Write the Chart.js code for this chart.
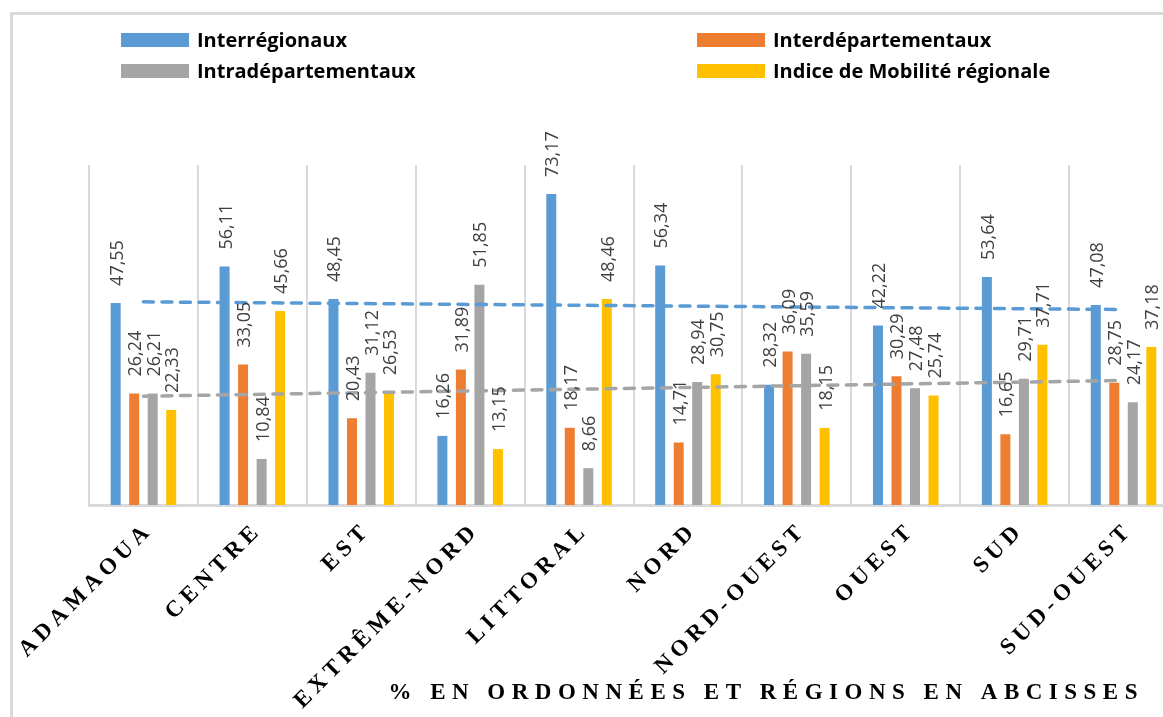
<!DOCTYPE html>
<html>
<head>
<meta charset="utf-8">
<script src="https://cdn.jsdelivr.net/npm/chart.js@4"></script>
<style>
html, body { margin:0; padding:0; overflow:hidden; background:#ffffff; width:1163px; height:717px; }
#frame { position:absolute; left:10px; top:12px; width:1400px; height:900px; border:3px solid #d9d9d9; box-sizing:border-box; }
#c { position:absolute; left:0; top:0; }
</style>
</head>
<body>
<div id="frame"></div>
<canvas id="c" width="1200" height="717"></canvas>
<script>
// ---- Data ----
const categories = ['ADAMAOUA','CENTRE','EST','EXTRÊME-NORD','LITTORAL','NORD','NORD-OUEST','OUEST','SUD','SUD-OUEST'];
const seriesNames = ['Interrégionaux','Interdépartementaux','Intradépartementaux','Indice de Mobilité régionale'];
const interRegionaux      = [47.55, 56.11, 48.45, 16.26, 73.17, 56.34, 28.32, 42.22, 53.64, 47.08];
const interDepartementaux = [26.24, 33.05, 20.43, 31.89, 18.17, 14.71, 36.09, 30.29, 16.65, 28.75];
const intraDepartementaux = [26.21, 10.84, 31.12, 51.85,  8.66, 28.94, 35.59, 27.48, 29.71, 24.17];
const indiceMobilite      = [22.33, 45.66, 26.53, 13.15, 48.46, 30.75, 18.15, 25.74, 37.71, 37.18];
// dashed trend lines (endpoints)
const interRegionauxTrend      = [47.8, null, null, null, null, null, null, null, null, 46.0];
const intraDepartementauxTrend = [25.6, null, null, null, null, null, null, null, null, 29.3];
const yMin = 0, yMax = 80;
const xTitle = '% EN ORDONNÉES ET RÉGIONS EN ABCISSES';

const colors = ['#5B9BD5', '#ED7D31', '#A5A5A5', '#FFC000'];
const seriesValues = [interRegionaux, interDepartementaux, intraDepartementaux, indiceMobilite];

const barDatasets = seriesValues.map((vals, i) => ({
  type: 'bar',
  label: seriesNames[i],
  data: vals,
  backgroundColor: colors[i],
  borderWidth: 0,
  categoryPercentage: 0.68,
  barPercentage: 0.54,
  order: 1
}));

const trendDatasets = [
  { type:'line', label:'trend-' + seriesNames[0], data: interRegionauxTrend, borderColor: colors[0] },
  { type:'line', label:'trend-' + seriesNames[2], data: intraDepartementauxTrend, borderColor: colors[2] }
].map(d => Object.assign(d, {
  spanGaps: true, pointRadius: 0, borderWidth: 3.5, borderDash: [10, 8.5], borderCapStyle: 'round',
  fill: false, order: -1, tension: 0
}));

// ---- Plugins ----
const TICK_SPACING = 5, TITLE_SPACING = 6.5;
const spacingPlugin = {
  id: 'spacing',
  beforeDraw(chart) {
    const s = chart.scales.x;
    if (!s.__patched) {
      const origTitle = s.drawTitle;
      s.drawTitle = function (...a) {
        const c = this.ctx;
        c.save();
        c.letterSpacing = TITLE_SPACING + 'px';
        c.translate(-34, 0);
        origTitle.apply(this, a);
        c.restore();
      };
      const origLabels = s.drawLabels;
      s.drawLabels = function (...a) {
        const c = this.ctx;
        c.save();
        c.letterSpacing = TICK_SPACING + 'px';
        c.translate(6, -2);
        origLabels.apply(this, a);
        c.restore();
      };
      s.__patched = true;
    }
  }
};

const dataLabelPlugin = {
  id: 'dataLabels',
  afterDatasetsDraw(chart) {
    const ctx = chart.ctx;
    ctx.save();
    ctx.font = '18px "Open Sans"';
    ctx.fillStyle = '#404040';
    ctx.textAlign = 'left';
    ctx.textBaseline = 'alphabetic';
    chart.data.datasets.forEach((ds, i) => {
      if (ds.type !== 'bar') return;
      const meta = chart.getDatasetMeta(i);
      meta.data.forEach((bar, j) => {
        const v = ds.data[j];
        ctx.save();
        ctx.translate(bar.x, bar.y - 17);
        ctx.rotate(-Math.PI / 2);
        ctx.fillText(v.toFixed(2).replace('.', ','), 0, 7);
        ctx.restore();
      });
    });
    ctx.restore();
  }
};

const legendPlugin = {
  id: 'customLegend',
  afterDraw(chart) {
    const ctx = chart.ctx;
    ctx.save();
    ctx.font = 'bold 20px "Open Sans"';
    ctx.textBaseline = 'middle';
    ctx.textAlign = 'left';
    const cols = [121, 697], rows = [40, 71];
    chart.data.datasets.filter(d => d.type === 'bar').forEach((ds, k) => {
      const x = cols[k % 2], y = rows[Math.floor(k / 2)];
      ctx.fillStyle = ds.backgroundColor;
      ctx.fillRect(x, y - 7, 68, 14);
      ctx.fillStyle = '#000000';
      ctx.fillText(ds.label, x + 76, y + 1);
    });
    ctx.restore();
  }
};

new Chart(document.getElementById('c'), {
  data: { labels: categories, datasets: [...barDatasets, ...trendDatasets] },
  options: {
    responsive: false,
    devicePixelRatio: 1,
    animation: false,
    events: [],
    layout: { padding: { left: 89, right: 22, top: 165, bottom: 0 } },
    plugins: { legend: { display: false }, tooltip: { enabled: false }, title: { display: false } },
    scales: {
      x: {
        offset: true,
        grid: { display: true, offset: true, color: '#d9d9d9', lineWidth: 2, drawTicks: false },
        border: { display: true, color: '#d9d9d9', width: 3 },
        ticks: {
          autoSkip: false, minRotation: 45, maxRotation: 45, padding: 14, color: '#000000',
          font: { family: "'Liberation Serif', serif", size: 23, weight: 'bold' }
        },
        title: {
          display: true, text: xTitle, align: 'end', color: '#000000',
          font: { family: "'Liberation Serif', serif", size: 23, weight: 'bold' },
          padding: { top: 0, bottom: 10 }
        },
        afterFit(scale) { scale.height = 212; }
      },
      y: { display: false, min: yMin, max: yMax }
    }
  },
  plugins: [spacingPlugin, dataLabelPlugin, legendPlugin]
});
</script>
</body>
</html>
